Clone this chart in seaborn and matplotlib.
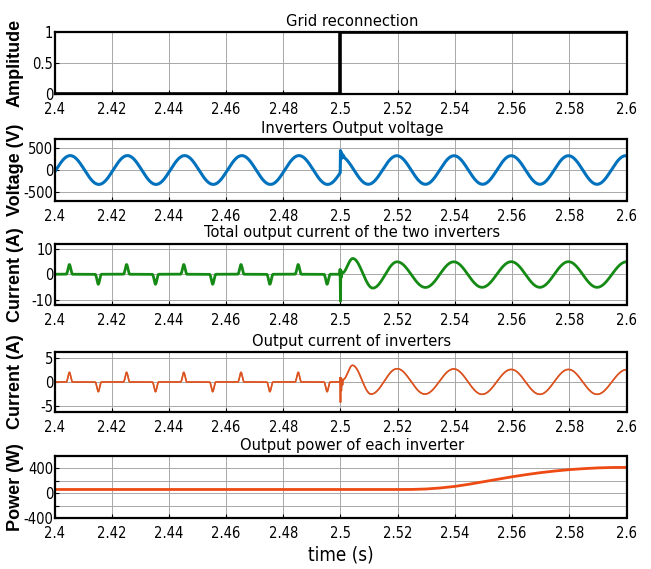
import numpy as np
import pandas as pd
import matplotlib
matplotlib.use("Agg")
import matplotlib.pyplot as plt
import seaborn as sns

# ---------------- data ----------------
x_ticks = [2.4, 2.42, 2.44, 2.46, 2.48, 2.5, 2.52, 2.54, 2.56, 2.58, 2.6]
x_tick_labels = ["2.4", "2.42", "2.44", "2.46", "2.48", "2.5", "2.52", "2.54", "2.56", "2.58", "2.6"]
panel_titles = ["Grid reconnection", "Inverters Output voltage",
                "Total output current of the two inverters",
                "Output current of inverters", "Output power of each inverter"]
y_labels = ["Amplitude", "Voltage (V)", "Current (A)", "Current (A)", "Power (W)"]
x_label = "time (s)"

# grid reconnection flag
grid_t = [2.4, 2.4997, 2.4997, 2.6]
grid_v = [0, 0, 1, 1]

# output voltage (50 Hz sinusoid, islanded before / grid-tied after reconnection)
freq_hz = 50.0
v_island_amp, v_island_peak_t = 325.0, 2.4055
v_grid_amp, v_grid_peak_t = 322.0, 2.5197
v_spike_t = [2.49990, 2.50000, 2.50015, 2.50030, 2.50045, 2.50060, 2.50080, 2.50100, 2.50120]
v_spike_v = [-62, 440, 250, 400, 270, 360, 285, 330, 300]

# current pulses before reconnection (pulse centres)
pulse_pos_t = [2.4052, 2.4252, 2.4452, 2.4652, 2.4852]
pulse_neg_t = [2.4153, 2.4353, 2.4553, 2.4753, 2.4953]

# total current
tot_pulse_pos, tot_pulse_neg = 3.8, -3.9
tot_spike_t = [2.49970, 2.49985, 2.50000, 2.50010, 2.50025, 2.50040, 2.50055]
tot_spike_v = [0.0, 1.9, -10.5, 1.5, -1.2, 0.9, 0.4]
tot_ext_t = [2.50055, 2.5043, 2.5113, 2.5198, 2.5297, 2.5396, 2.5495, 2.5597, 2.5697, 2.5797, 2.5897, 2.6]
tot_ext_v = [0.4, 6.15, -5.4, 4.85, -5.15, 4.85, -5.1, 4.9, -5.1, 4.9, -5.1, 4.85]

# each inverter current
inv_pulse_pos, inv_pulse_neg = 2.0, -2.0
inv_spike_t = [2.49970, 2.49985, 2.50000, 2.50010, 2.50030, 2.50050, 2.50070, 2.50090]
inv_spike_v = [0.0, 0.9, -4.2, 0.9, -1.8, 0.6, -0.6, 0.5]
inv_ext_t = [2.50090, 2.5042, 2.5107, 2.5198, 2.5295, 2.5396, 2.5495, 2.5597, 2.5697, 2.5797, 2.5897, 2.6]
inv_ext_v = [0.5, 3.45, -2.5, 2.75, -2.5, 2.7, -2.55, 2.6, -2.55, 2.6, -2.55, 2.55]

# power of each inverter
power_t = [2.4, 2.52, 2.525, 2.53, 2.535, 2.54, 2.545, 2.55, 2.555, 2.56, 2.565,
           2.57, 2.575, 2.58, 2.585, 2.59, 2.595, 2.6]
power_v = [60, 60, 61, 68, 85, 110, 145, 185, 225, 265, 300, 332, 358, 380, 396, 408, 415, 416]

# ---------------- waveform assembly ----------------
t = np.linspace(2.4, 2.6, 8001)
omega = 2 * np.pi * freq_hz


def half_cos_between(ts, vs, tt):
    out = np.empty_like(tt)
    for k in range(len(ts) - 1):
        m = (tt >= ts[k]) & (tt <= ts[k + 1])
        u = (tt[m] - ts[k]) / (ts[k + 1] - ts[k])
        out[m] = vs[k] + (vs[k + 1] - vs[k]) * (1 - np.cos(np.pi * u)) / 2
    return out


def pulses(tt, centres, height, half_width=0.0012):
    out = np.zeros_like(tt)
    for c in centres:
        m = np.abs(tt - c) < half_width
        out[m] += height * (0.5 + 0.5 * np.cos(np.pi * (tt[m] - c) / half_width)) ** 1.4
    return out


def current_wave(pos_h, neg_h, spike_t, spike_v, ext_t, ext_v):
    pre = t[t < spike_t[0]]
    pre_v = pulses(pre, pulse_pos_t, pos_h) + pulses(pre, pulse_neg_t, neg_h)
    post = t[t > ext_t[0]]
    post_v = half_cos_between(ext_t, ext_v, post)
    tt = np.concatenate([pre, spike_t, post])
    vv = np.concatenate([pre_v, spike_v, post_v])
    return tt, vv


pre = t[t < v_spike_t[0]]
post = t[t > v_spike_t[-1]]
volt_t = np.concatenate([pre, v_spike_t, post])
volt_v = np.concatenate([v_island_amp * np.cos(omega * (pre - v_island_peak_t)), v_spike_v,
                         v_grid_amp * np.cos(omega * (post - v_grid_peak_t))])

tot_t, tot_v = current_wave(tot_pulse_pos, tot_pulse_neg, tot_spike_t, tot_spike_v, tot_ext_t, tot_ext_v)
inv_t, inv_v = current_wave(inv_pulse_pos, inv_pulse_neg, inv_spike_t, inv_spike_v, inv_ext_t, inv_ext_v)

df_grid = pd.DataFrame({"t": grid_t, "v": grid_v})
df_volt = pd.DataFrame({"t": volt_t, "v": volt_v})
df_tot = pd.DataFrame({"t": tot_t, "v": tot_v})
df_inv = pd.DataFrame({"t": np.concatenate([inv_t, inv_t]), "v": np.concatenate([inv_v, inv_v]),
                       "inverter": ["Inverter 1"] * len(inv_t) + ["Inverter 2"] * len(inv_t)})
df_pow = pd.DataFrame({"t": power_t, "v": power_v})

# ---------------- styling ----------------
sns.set_style("white")
plt.rcParams["font.family"] = ["DejaVu Sans"]
plt.rcParams["font.stretch"] = "condensed"
plt.rcParams["text.color"] = "black"
plt.rcParams["axes.labelcolor"] = "black"
bold_family = ["Liberation Sans", "DejaVu Sans"]

W, H = 651, 569
fig = plt.figure(figsize=(W / 100, H / 100), dpi=100)
left_px, right_px = 54.5, 626.5
boxes = [(32.3, 94), (139, 201), (243.5, 305), (352, 412), (456, 518)]
axes = []
for top, bot in boxes:
    axes.append(fig.add_axes([left_px / W, 1 - bot / H, (right_px - left_px) / W, (bot - top) / H]))

sns.lineplot(data=df_grid, x="t", y="v", ax=axes[0], color="black", lw=2.6,
             estimator=None, sort=False)
sns.lineplot(data=df_volt, x="t", y="v", ax=axes[1], color="#0072BD", lw=2.2,
             estimator=None, sort=False)
sns.lineplot(data=df_tot, x="t", y="v", ax=axes[2], color="#158A15", lw=2.0,
             estimator=None, sort=False)
sns.lineplot(data=df_inv, x="t", y="v", hue="inverter", ax=axes[3],
             palette=["#E8603C", "#D9541E"], lw=1.1, estimator=None, sort=False, legend=False)
sns.lineplot(data=df_pow, x="t", y="v", ax=axes[4], color="#EE4A14", lw=2.0,
             estimator=None, sort=False)

ylims = [(0, 1), (-700, 700), (-12, 12), (-6.2, 6.2), (-400, 600)]
yticks = [[0, 0.5, 1], [-500, 0, 500], [-10, 0, 10], [-5, 0, 5], [-400, -200, 0, 200, 400, 600]]
yticklabels = [["0", "0.5", "1"], ["-500", "0", "500"], ["-10", "0", "10"], ["-5", "0", "5"],
               ["-400", "", "0", "", "400", ""]]

for i, ax in enumerate(axes):
    ax.set_xlim(2.4, 2.6)
    ax.set_ylim(*ylims[i])
    ax.set_xticks(x_ticks)
    ax.set_xticklabels(x_tick_labels)
    ax.set_yticks(yticks[i])
    ax.set_yticklabels(yticklabels[i])
    ax.grid(True, color="#a8a8a8", lw=0.7)
    ax.set_axisbelow(True)
    for s in ax.spines.values():
        s.set_visible(True)
        s.set_color("black")
        s.set_linewidth(1.6)
    ax.tick_params(axis="both", direction="in", length=3, width=0.8, labelsize=10.5,
                   colors="black", left=True, bottom=True)
    ax.tick_params(axis="x", pad=6)
    ax.tick_params(axis="y", pad=1)
    ax.set_xlabel("")
    ax.set_ylabel(y_labels[i], fontsize=13, fontweight="bold", family=bold_family, color="black")
    ax.yaxis.set_label_coords(-0.054, 0.5)
    ax.set_title(panel_titles[i], fontsize=11.8, pad=4.5, x=0.52, color="black")

axes[-1].set_xlabel(x_label, fontsize=13.5, labelpad=3, color="black")

fig.savefig("out.png", dpi=100)
